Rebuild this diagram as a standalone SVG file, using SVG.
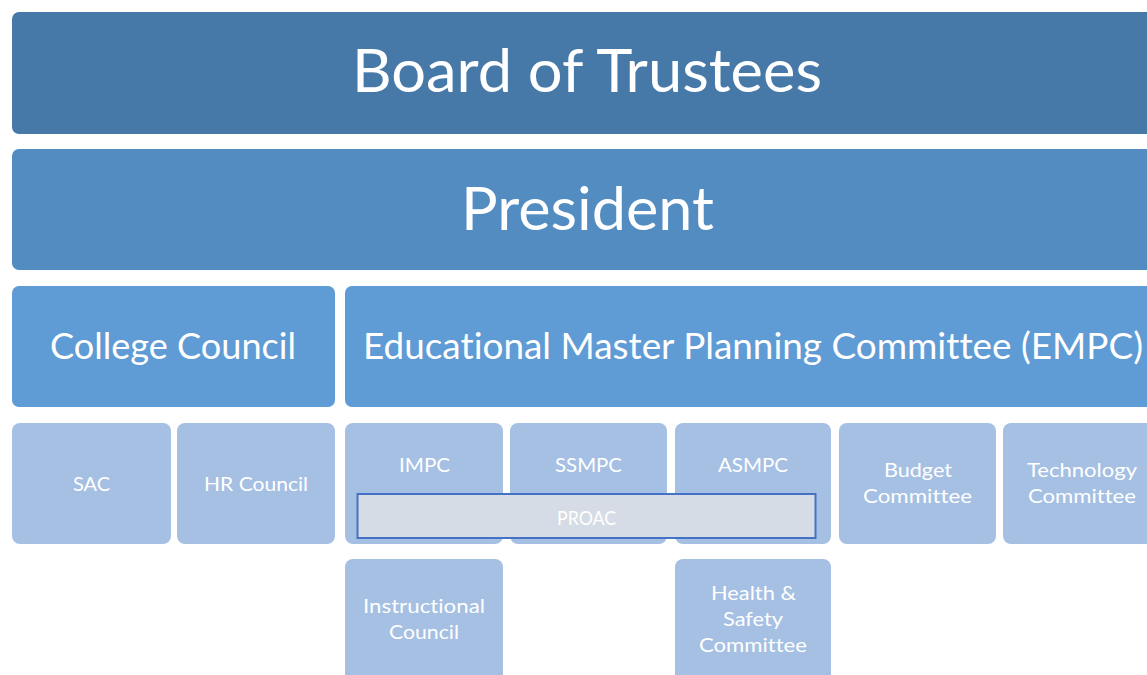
<svg xmlns="http://www.w3.org/2000/svg" width="1147" height="675" viewBox="0 0 1147 675">
<style>
text{font-family:Lato,"Open Sans","Liberation Sans",sans-serif;fill:#ffffff;text-anchor:middle;font-variant-ligatures:none;font-feature-settings:"liga" 0,"clig" 0,"dlig" 0}
.b1{fill:#4679a8}
.b2{fill:#538cc1}
.b3{fill:#5f9bd4}
.b4{fill:#a5c0e3}
.big{font-size:60px}
.mid{font-size:37px}
.sm{font-size:20px}
.proac{fill:#d6dce5;stroke:#4472c4;stroke-width:2}
</style>
<rect width="1147" height="675" fill="#ffffff"/>
<g id="connectors"/>
<g id="board">
<rect class="b1" x="12" y="12" width="1151" height="122" rx="7"/>
<text class="big" x="587" y="92" textLength="470" lengthAdjust="spacingAndGlyphs">Board of Trustees</text>
</g>
<g id="president">
<rect class="b2" x="12" y="149" width="1151" height="121" rx="7"/>
<text class="big" x="587.5" y="230" textLength="253" lengthAdjust="spacingAndGlyphs">President</text>
</g>
<g id="college-council">
<rect class="b3" x="12" y="286" width="323" height="121" rx="7"/>
<text class="mid" x="173" y="359" textLength="246" lengthAdjust="spacingAndGlyphs">College Council</text>
</g>
<g id="empc">
<rect class="b3" x="345" y="286" width="818" height="121" rx="7"/>
<text class="mid" x="753" y="359" textLength="780" lengthAdjust="spacingAndGlyphs">Educational Master Planning Committee (EMPC)</text>
</g>
<g id="sac">
<rect class="b4" x="12" y="423" width="159" height="121" rx="8"/>
<text class="sm" x="91.5" y="491" textLength="37" lengthAdjust="spacingAndGlyphs">SAC</text>
</g>
<g id="hr-council">
<rect class="b4" x="177" y="423" width="158" height="121" rx="8"/>
<text class="sm" x="256" y="491" textLength="104" lengthAdjust="spacingAndGlyphs">HR Council</text>
</g>
<g id="impc">
<rect class="b4" x="345" y="423" width="158" height="121" rx="8"/>
<text class="sm" x="424.5" y="472" textLength="51" lengthAdjust="spacingAndGlyphs">IMPC</text>
</g>
<g id="ssmpc">
<rect class="b4" x="510" y="423" width="157" height="121" rx="8"/>
<text class="sm" x="588.5" y="472" textLength="67" lengthAdjust="spacingAndGlyphs">SSMPC</text>
</g>
<g id="asmpc">
<rect class="b4" x="675" y="423" width="156" height="121" rx="8"/>
<text class="sm" x="753" y="472" textLength="70" lengthAdjust="spacingAndGlyphs">ASMPC</text>
</g>
<g id="budget">
<rect class="b4" x="839" y="423" width="157" height="121" rx="8"/>
<text class="sm" x="918" y="477" textLength="68" lengthAdjust="spacingAndGlyphs">Budget</text>
<text class="sm" x="917.5" y="503" textLength="109" lengthAdjust="spacingAndGlyphs">Committee</text>
</g>
<g id="technology">
<rect class="b4" x="1003" y="423" width="158" height="121" rx="8"/>
<text class="sm" x="1082" y="477" textLength="110" lengthAdjust="spacingAndGlyphs">Technology</text>
<text class="sm" x="1082" y="503" textLength="108" lengthAdjust="spacingAndGlyphs">Committee</text>
</g>
<g id="proac">
<rect class="proac" x="357.5" y="494" width="458" height="44"/>
<text class="sm" x="586.5" y="525" textLength="59" lengthAdjust="spacingAndGlyphs">PROAC</text>
</g>
<g id="instructional-council">
<rect class="b4" x="345" y="559" width="158" height="130" rx="8"/>
<text class="sm" x="424" y="613" textLength="122" lengthAdjust="spacingAndGlyphs">Instructional</text>
<text class="sm" x="424" y="639" textLength="70" lengthAdjust="spacingAndGlyphs">Council</text>
</g>
<g id="health-safety">
<rect class="b4" x="675" y="559" width="156" height="130" rx="8"/>
<text class="sm" x="753.5" y="600" textLength="85" lengthAdjust="spacingAndGlyphs">Health &amp;</text>
<text class="sm" x="753" y="626" textLength="60" lengthAdjust="spacingAndGlyphs">Safety</text>
<text class="sm" x="753" y="652" textLength="108" lengthAdjust="spacingAndGlyphs">Committee</text>
</g>
</svg>
